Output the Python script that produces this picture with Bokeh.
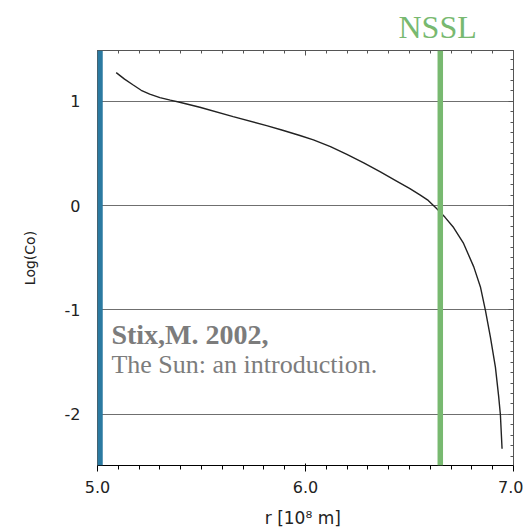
from bokeh.plotting import figure
from bokeh.models import (Range1d, FixedTicker, LinearAxis, Label, Span)
from bokeh.embed import file_html
from bokeh.resources import INLINE

# ---- data ----
r_vals = [5.090, 5.130, 5.170, 5.210, 5.251, 5.300, 5.350, 5.395, 5.492, 5.652,
          5.813, 5.890, 5.973, 6.038, 6.120, 6.199, 6.280, 6.360, 6.440, 6.500,
          6.552, 6.590, 6.629, 6.670, 6.712, 6.760, 6.809, 6.841, 6.865, 6.889,
          6.913, 6.929, 6.937, 6.945]
logc_vals = [1.274, 1.212, 1.158, 1.105, 1.068, 1.035, 1.010, 0.990, 0.942, 0.852,
             0.766, 0.722, 0.672, 0.629, 0.565, 0.490, 0.410, 0.324, 0.233, 0.165,
             0.100, 0.050, -0.025, -0.110, -0.210, -0.363, -0.587, -0.779, -1.003,
             -1.259, -1.547, -1.835, -2.004, -2.330]
x_ticks = [5.0, 6.0, 7.0]
x_tick_labels = {5.0: "5.0", 6.0: "6.0", 7.0: "7.0"}
y_ticks = [-2, -1, 0, 1]
y_tick_labels = {-2: "-2", -1: "-1", 0: "0", 1: "1"}
x_minor = [round(5.0 + 0.1 * i, 2) for i in range(21)]
y_minor = [round(-2.4 + 0.1 * i, 2) for i in range(39)]
blue_x = 5.012
nssl_x = 6.648
nssl_label = "NSSL"
cite_bold = "Stix,M. 2002,"
cite_text = "The Sun: an introduction."

p = figure(frame_width=416, frame_height=415, output_backend="svg",
           toolbar_location=None, x_range=Range1d(5.0, 7.0),
           y_range=Range1d(-2.49, 1.486),
           min_border_left=97, min_border_top=50, min_border_right=10,
           min_border_bottom=62)
p.background_fill_color = "white"
p.border_fill_color = "white"
p.outline_line_color = "#555555"
p.outline_line_width = 1

# title used as the NSSL marker label
p.title.text = nssl_label
p.title.align = "left"
p.title.offset = 301
p.title.text_font = "Liberation Serif"
p.title.text_font_size = "32px"
p.title.text_font_style = "normal"
p.title.text_color = "#78b970"
p.title.standoff = 12

tick_color = "#555555"
lab_color = "#222222"
ax = p.xaxis[0]
ax.ticker = FixedTicker(ticks=x_ticks, minor_ticks=x_minor)
ax.major_label_overrides = x_tick_labels
ax.major_label_text_font = "DejaVu Sans"
ax.major_label_text_font_size = "16px"
ax.major_label_text_color = lab_color
ax.major_label_standoff = 9
ax.axis_label = "r  [10\u2078 m]"
ax.axis_label_text_font = "DejaVu Sans"
ax.axis_label_text_font_size = "17px"
ax.axis_label_text_font_style = "normal"
ax.axis_label_text_color = lab_color
ax.axis_label_standoff = 12

yax = p.yaxis[0]
yax.ticker = FixedTicker(ticks=y_ticks, minor_ticks=y_minor)
yax.major_label_overrides = y_tick_labels
yax.major_label_text_font = "DejaVu Sans"
yax.major_label_text_font_size = "16px"
yax.major_label_text_color = lab_color
yax.major_label_standoff = 17
yax.axis_label = "Log(Co)"
yax.axis_label_text_font = "DejaVu Sans"
yax.axis_label_text_font_size = "14px"
yax.axis_label_text_font_style = "normal"
yax.axis_label_text_color = lab_color
yax.axis_label_standoff = 24

top_ax = LinearAxis(ticker=FixedTicker(ticks=x_ticks, minor_ticks=x_minor),
                    major_label_text_font_size="0px", major_label_text_color=None,
                    major_label_standoff=0)
right_ax = LinearAxis(ticker=FixedTicker(ticks=y_ticks, minor_ticks=y_minor),
                      major_label_text_font_size="0px", major_label_text_color=None,
                      major_label_standoff=0)
p.add_layout(top_ax, "above")
p.add_layout(right_ax, "right")

for a in (p.xaxis[0], yax, top_ax, right_ax):
    a.axis_line_color = tick_color
    a.major_tick_line_color = tick_color
    a.minor_tick_line_color = tick_color
    a.major_tick_in = 5
    a.major_tick_out = 0
    a.minor_tick_in = 3
    a.minor_tick_out = 0

p.xgrid.visible = False
p.ygrid.ticker = FixedTicker(ticks=y_ticks)
p.ygrid.grid_line_color = "#6f6f6f"
p.ygrid.grid_line_width = 1

# curve
p.line(r_vals, logc_vals, line_color="#222222", line_width=1.4)

# vertical markers
p.add_layout(Span(location=blue_x, dimension="height", line_color="#2b7aa1",
                  line_width=5.5))
p.add_layout(Span(location=nssl_x, dimension="height", line_color="#78b970",
                  line_width=5.5))

p.add_layout(Label(x=5.067, y=-1.234, text=cite_bold, text_align="left",
                   text_baseline="alphabetic", text_font="Liberation Serif",
                   text_font_style="bold", text_font_size="28px",
                   text_color="#7c7c7c"))
p.add_layout(Label(x=5.067, y=-1.524, text=cite_text, text_align="left",
                   text_baseline="alphabetic", text_font="Liberation Serif",
                   text_font_size="26px", text_color="#7c7c7c"))

open("out.html", "w").write(file_html(p, INLINE))
